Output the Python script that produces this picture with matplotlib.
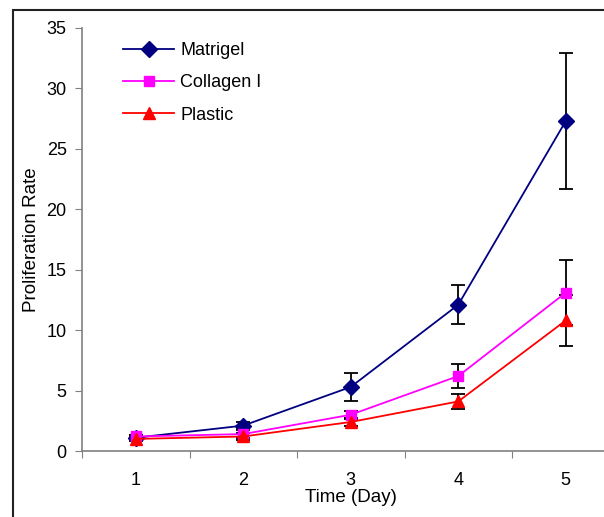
import matplotlib.pyplot as plt
from matplotlib.patches import Rectangle

plt.rcParams['font.family'] = ['Liberation Sans', 'DejaVu Sans']

# Data
days = [1, 2, 3, 4, 5]
matrigel = [1.1, 2.1, 5.3, 12.1, 27.3]
matrigel_err = [0.2, 0.3, 1.15, 1.6, 5.6]
collagen = [1.2, 1.4, 3.0, 6.2, 13.1]
collagen_err = [0.15, 0.3, 0.35, 1.0, 2.7]
plastic = [1.0, 1.2, 2.4, 4.1, 10.8]
plastic_err = [0.15, 0.25, 0.3, 0.6, 2.1]

series_names = ['Matrigel', 'Collagen I', 'Plastic']
day_labels = ['1', '2', '3', '4', '5']

fig = plt.figure(figsize=(6.04, 5.17), dpi=100)
ax = fig.add_axes([82/604, 66/517, 537.5/604, 423/517])

# outer frame round the chart (cut off at right and bottom)
fig.patches.append(Rectangle((13/604, -0.1), 1.2, 1.1 - 10/517, transform=fig.transFigure,
                             fill=False, edgecolor='#222222', linewidth=1.5))

styles = [('#000080', 'D', 8), ('#FF00FF', 's', 7.5), ('#FF0000', '^', 9)]
for vals, errs, name, (col, mk, ms) in zip([matrigel, collagen, plastic],
                                            [matrigel_err, collagen_err, plastic_err],
                                            series_names, styles):
    ax.errorbar(days, vals, yerr=errs, fmt='none', ecolor='black', elinewidth=1.3,
                capsize=5, capthick=1.3, zorder=2)
    ax.plot(days, vals, color=col, marker=mk, markersize=ms, linewidth=1.3,
            label=name, zorder=3)

ax.set_xlim(0.5, 5.5)
ax.set_ylim(0, 35)
ax.set_yticks(range(0, 36, 5))
ax.set_xticks([0.5, 1.5, 2.5, 3.5, 4.5, 5.5])
ax.set_xticklabels([])
ax.set_xticks(days, minor=True)
ax.set_xticklabels(day_labels, minor=True)
ax.tick_params(axis='x', which='major', length=5, color='#808080', direction='out')
ax.tick_params(axis='x', which='minor', length=0, pad=15, labelsize=13)
ax.tick_params(axis='y', length=5, color='#808080', direction='out', pad=6, labelsize=13)

for side in ['top', 'right']:
    ax.spines[side].set_visible(False)
for side in ['left', 'bottom']:
    ax.spines[side].set_color('#808080')
    ax.spines[side].set_linewidth(1.2)

ax.set_xlabel('Time (Day)', fontsize=13.5, labelpad=0)
ax.set_ylabel('Proliferation Rate', fontsize=13.5, labelpad=5)

ax.legend(loc='upper left', bbox_to_anchor=(107/604, 1 - 26/517), bbox_transform=fig.transFigure,
          frameon=False, fontsize=13, handlelength=2.8, handletextpad=0.35, labelspacing=0.84)

fig.savefig('out.png', dpi=100)
